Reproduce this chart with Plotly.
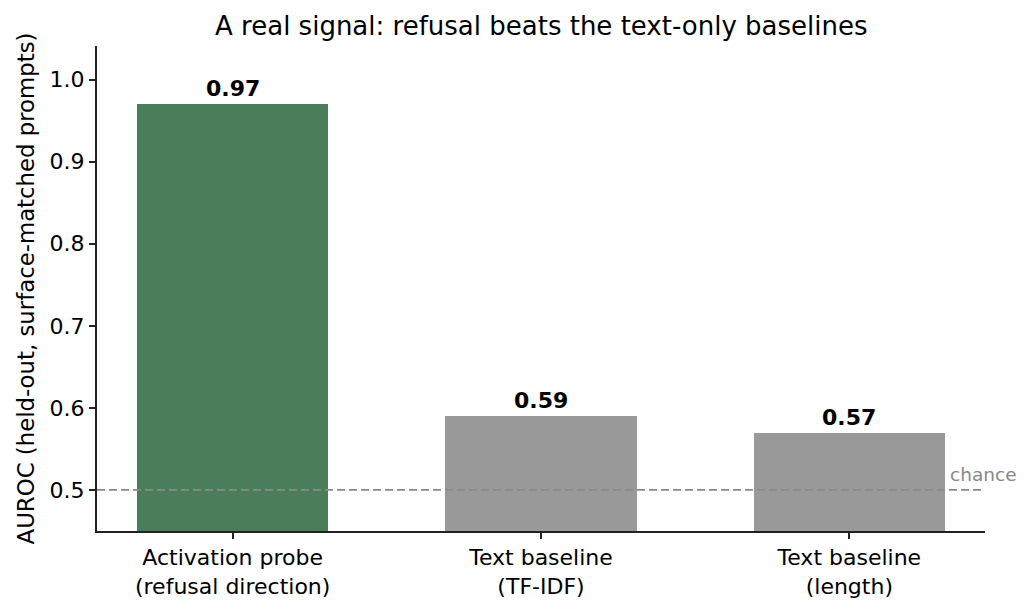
import plotly.graph_objects as go

# data
categories = ["Activation probe<br>(refusal direction)", "Text baseline<br>(TF-IDF)", "Text baseline<br>(length)"]
auroc = [0.97, 0.59, 0.57]
bar_colors = ["#4a7d5a", "#999999", "#999999"]
chance_level = 0.5
y_ticks = [0.5, 0.6, 0.7, 0.8, 0.9, 1.0]

xs = list(range(len(categories)))

fig = go.Figure()

fig.add_trace(go.Bar(
    x=xs,
    y=auroc,
    width=0.62,
    marker=dict(color=bar_colors, line=dict(width=0)),
    hoverinfo="skip",
    showlegend=False,
))

# linea del caso (chance)
fig.add_shape(
    type="line", xref="paper", yref="y",
    x0=0, x1=1, y0=chance_level, y1=chance_level,
    line=dict(color="#8a8a8a", width=1.8, dash="8px,4px"),
)
fig.add_annotation(
    x=2.32, y=chance_level, xref="x", yref="y",
    text="chance", showarrow=False,
    xanchor="left", yanchor="bottom", yshift=3,
    font=dict(size=18.5, color="#888888"),
)

# etichette sopra le barre
for x, v in zip(xs, auroc):
    fig.add_annotation(
        x=x, y=v, xref="x", yref="y",
        text=f"<b>{v:.2f}</b>", showarrow=False,
        yanchor="bottom", yshift=1,
        font=dict(size=22, color="black"),
    )

fig.update_layout(
    width=1033, height=610,
    margin=dict(l=97, r=48, t=46, b=79),
    paper_bgcolor="white", plot_bgcolor="white",
    font=dict(family="DejaVu Sans", color="black", size=22),
    title=dict(
        text="A real signal: refusal beats the text-only baselines",
        x=0.524, xanchor="center", y=0.958, yanchor="middle",
        font=dict(size=26, color="black"),
    ),
    bargap=0,
)

fig.update_xaxes(
    range=[-0.44, 2.44],
    tickvals=xs, ticktext=categories,
    showline=True, linecolor="#222222", linewidth=2,
    ticks="outside", ticklen=6, tickwidth=2, tickcolor="#222222",
    showgrid=False, zeroline=False,
    tickfont=dict(size=22),
)
fig.update_yaxes(
    range=[0.45, 1.041],
    tickvals=y_ticks, ticktext=[f"{t:.1f}" for t in y_ticks],
    showline=True, linecolor="#222222", linewidth=2,
    ticks="outside", ticklen=6, tickwidth=2, tickcolor="#222222",
    showgrid=False, zeroline=False,
    tickfont=dict(size=22),
    title=dict(text="AUROC (held-out, surface-matched prompts)", font=dict(size=22.8), standoff=9),
)

fig.write_html(
    "out.html",
    config={"displayModeBar": False},
    post_script="document.body.style.margin='0px';",
)
